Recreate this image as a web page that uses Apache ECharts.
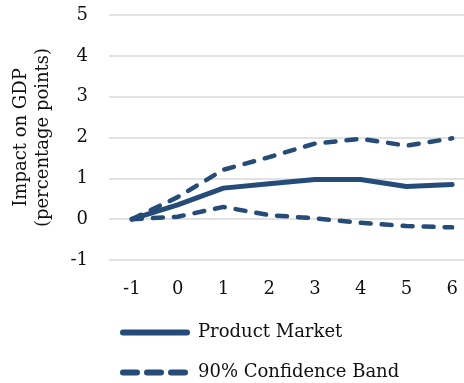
<!DOCTYPE html>
<html><head><meta charset="utf-8">
<script src="https://cdn.jsdelivr.net/npm/echarts@6/dist/echarts.min.js"></script>
<style>html,body{margin:0;padding:0;background:#fff}#c{width:464px;height:383px}</style>
</head><body><div id="c"></div>
<script>
const categories = ['-1','0','1','2','3','4','5','6'];
const productMarket = [0, 0.35, 0.76, 0.87, 0.97, 0.97, 0.80, 0.85];
const bandUpper = [0, 0.54, 1.21, 1.52, 1.85, 1.97, 1.80, 1.98];
const bandLower = [0, 0.06, 0.30, 0.10, 0.02, -0.09, -0.17, -0.20];
const yTicks = {min: -1, max: 5, interval: 1};

const color = '#254b79';
const font = 'DejaVu Serif';
const dash = [10, 11];
const chart = echarts.init(document.getElementById('c'));
chart.setOption({
  animation: false,
  grid: {left: 109, top: 15, width: 366, height: 245, containLabel: false, outerBoundsMode: 'none'},
  legend: {
    orient: 'vertical', left: 120, top: 322, height: 61, padding: 0,
    itemWidth: 64, itemHeight: 14, itemGap: 19,
    itemStyle: {opacity: 0},
    data: [
      {name: 'Product Market', lineStyle: {width: 6, type: 'solid', cap: 'round', color: color}},
      {name: '90% Confidence Band', lineStyle: {width: 6, type: [14, 10], cap: 'round', color: color}}
    ],
    textStyle: {fontFamily: font, fontSize: 18, lineHeight: 21, color: '#111', padding: [0,0,0,6]}
  },
  xAxis: {
    type: 'category', data: categories, boundaryGap: true,
    axisLine: {show: false}, axisTick: {show: false},
    axisLabel: {fontFamily: font, fontSize: 18, color: '#111', margin: 20}
  },
  yAxis: {
    type: 'value', min: yTicks.min, max: yTicks.max, interval: yTicks.interval,
    name: 'Impact on GDP\n(percentage points)', nameLocation: 'middle', nameRotate: 90, nameGap: 55,
    nameTextStyle: {fontFamily: font, fontSize: 18, color: '#111', lineHeight: 22},
    axisLine: {show: false}, axisTick: {show: false},
    axisLabel: {fontFamily: font, fontSize: 18, color: '#111', margin: 21},
    splitLine: {lineStyle: {color: '#d9d9d9', width: 1.5}}
  },
  series: [
    {name: 'Product Market', type: 'line', data: productMarket, symbol: 'none',
     lineStyle: {color: color, width: 5, cap: 'round'}, itemStyle: {color: color}},
    {name: '90% Confidence Band', type: 'line', data: bandUpper, symbol: 'none',
     lineStyle: {color: color, width: 4.5, type: dash, cap: 'round'}, itemStyle: {color: color}},
    {name: '90% Confidence Band', type: 'line', data: bandLower, symbol: 'none',
     lineStyle: {color: color, width: 4.5, type: dash, cap: 'round'}, itemStyle: {color: color}}
  ]
});
</script></body></html>
